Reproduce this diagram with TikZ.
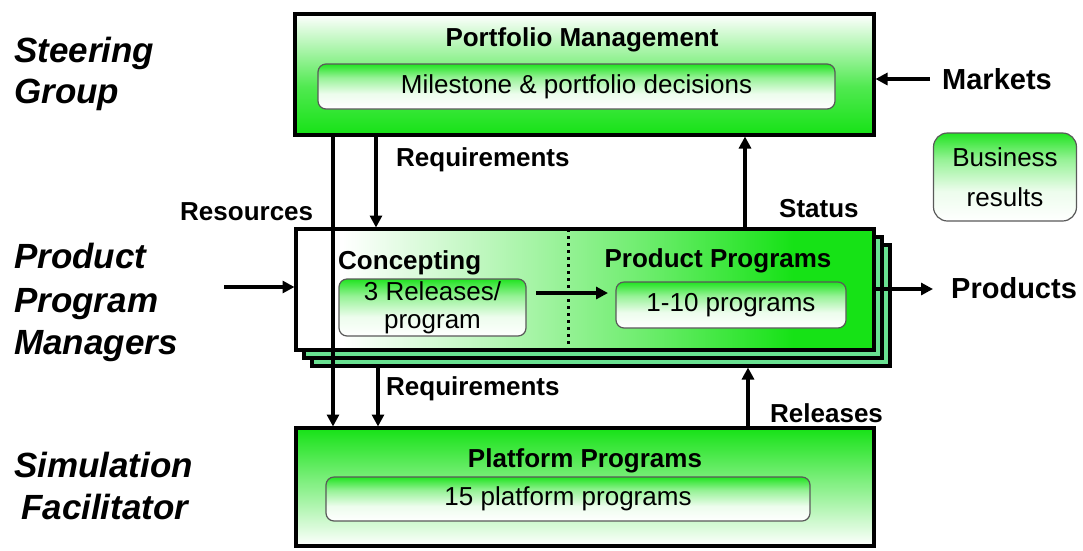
\documentclass[tikz,border=0pt]{standalone}
\usepackage{fontspec}
\setmainfont{Liberation Sans}
\usetikzlibrary{arrows.meta}
\definecolor{gr}{RGB}{22,226,22}
\definecolor{shgr}{RGB}{105,225,145}
\pgfdeclarehorizontalshading{midshade}{100bp}{color(0bp)=(white); color(29bp)=(white); color(42bp)=(gr!30!white); color(55bp)=(gr!62!white); color(68bp)=(gr); color(100bp)=(gr)}
\pgfdeclareverticalshading{inshade}{100bp}{color(0bp)=(white); color(25bp)=(white); color(42bp)=(gr!8!white); color(60bp)=(gr!45!white); color(75bp)=(gr!95!white); color(100bp)=(gr!95!white)}
\pgfdeclareverticalshading{topshade}{100bp}{color(0bp)=(gr); color(25bp)=(gr); color(45bp)=(gr!75!white); color(75bp)=(white); color(100bp)=(white)}
\begin{document}
\begin{tikzpicture}[x=1pt,y=-1pt,
  bigbox/.style={draw=black, line width=4pt, rectangle, inner sep=0pt, outer sep=0pt},
  shadowbox/.style={draw=black, line width=4pt, fill=shgr, rectangle, inner sep=0pt, outer sep=0pt},
  inbox/.style={draw=black!65, line width=1.2pt, rounded corners=8pt, shading=inshade, inner sep=0pt, outer sep=0pt, align=center, font=\fontsize{26}{28}\selectfont},
  lbl/.style={font=\fontsize{26}{30}\selectfont\bfseries, inner sep=0pt, anchor=base west},
  ttl/.style={font=\fontsize{26}{30}\selectfont\bfseries, inner sep=0pt, anchor=base},
  role/.style={font=\fontsize{35}{42}\selectfont\bfseries\itshape, inner sep=0pt, anchor=base west},
  side/.style={font=\fontsize{29}{34}\selectfont\bfseries, inner sep=0pt, anchor=base west},
  arr/.style={line width=3.5pt, -{Triangle[length=12pt,width=12pt]}}
]
\useasboundingbox (0,0) rectangle (1083,550);

% role labels
\node[role] (r1) at (14,62) {Steering};
\node[role] (r2) at (14,103) {Group};
\node[role] (r3) at (14,268) {Product};
\node[role] (r4) at (14,312) {Program};
\node[role] (r5) at (14,354) {Managers};
\node[role] (r6) at (14,477) {Simulation};
\node[role] (r7) at (21,519) {Facilitator};

% top box
\node[bigbox, minimum width=579pt, minimum height=121pt, shading=topshade] (pm) at (584.5,74.5) {};
\node[ttl] (pmt) at (582,46) {Portfolio Management};
\node[inbox, minimum width=517pt, minimum height=45pt] (mil) at (576.5,86.5) {Milestone \& portfolio decisions};

% middle stacked boxes
\node[shadowbox, minimum width=578pt, minimum height=121pt] (sh2) at (601,305.5) {};
\node[shadowbox, minimum width=578pt, minimum height=121pt] (sh1) at (593,297.5) {};
\node[bigbox, minimum width=578pt, minimum height=121pt, shading=midshade] (mid) at (585,289.5) {};
\draw[line width=3pt, dash pattern=on 3pt off 4pt] (mid.north -| 568,0) -- (mid.south -| 568,0);
\node[lbl] (cpt) at (338,269) {Concepting};
\node[ttl] (ppt) at (718,267) {Product Programs};
\node[inbox, minimum width=187pt, minimum height=57pt] (rel) at (432.5,307.5) {3 Releases/\\program};
\node[inbox, minimum width=230pt, minimum height=46pt] (prog) at (731,305) {1-10 programs};
\draw[arr, shorten <=10pt, shorten >=8pt] (rel.east |- 0,293) -- (prog.west |- 0,293);

% bottom box
\node[bigbox, minimum width=578pt, minimum height=118pt, top color=gr, bottom color=white] (plat) at (585,487) {};
\node[ttl] (platt) at (585,467) {Platform Programs};
\node[inbox, minimum width=484pt, minimum height=44pt] (fif) at (568,499) {15 platform programs};

% business results
\node[inbox, rounded corners=14pt, minimum width=143pt, minimum height=88pt, font=\fontsize{26}{40}\selectfont] (bus) at (1005,177) {Business\\results};

% side labels
\node[side] (mk) at (942,89) {Markets};
\node[side] (pr) at (951,298.5) {Products};
\coordinate (mkS) at (930,79);
\coordinate (prE) at (933,289);
\coordinate (resS) at (224,287);

% flow labels
\node[lbl] (req1) at (396,166) {Requirements};
\node[lbl] (res) at (180,220) {Resources};
\node[lbl] (stat) at (779,217) {Status};
\node[lbl] (req2) at (386,395) {Requirements};
\node[lbl] (rels) at (770,422) {Releases};

% connectors
\draw[arr, shorten >=1.5pt] (pm.south -| 333,0) -- (plat.north -| 333,0);
\draw[arr, shorten >=1.5pt] (pm.south -| 376,0) -- (mid.north -| 376,0);
\draw[arr, shorten >=1.5pt] (mid.north -| 745,0) -- (pm.south -| 745,0);
\draw[arr, shorten >=1.5pt] (resS) -- (mid.west |- resS);
\draw[arr, shorten >=1.5pt] (mkS) -- (pm.east |- mkS);
\draw[arr] (mid.east |- prE) -- (prE);
\draw[arr, shorten >=1.5pt] (sh2.south -| 378,0) -- (plat.north -| 378,0);
\draw[arr, shorten >=1.5pt] (plat.north -| 748,0) -- (sh2.south -| 748,0);
\end{tikzpicture}
\end{document}
